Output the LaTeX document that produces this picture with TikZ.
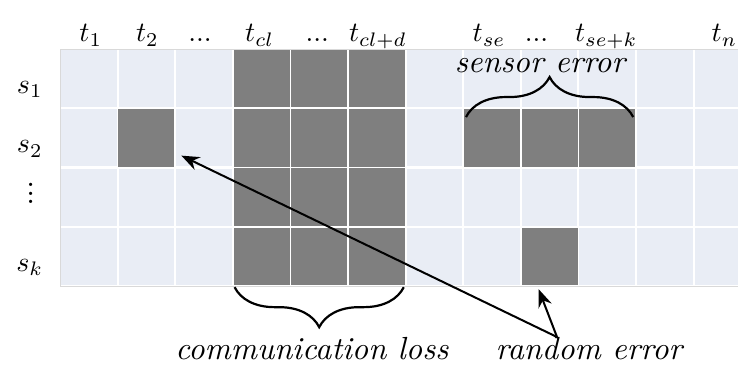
\documentclass[tikz,border=0pt]{standalone}
\usetikzlibrary{positioning,calc,decorations.pathreplacing,arrows.meta}

\definecolor{cellbg}{HTML}{E9EDF5}
\definecolor{lostgray}{HTML}{7F7F7F}
\definecolor{gridline}{HTML}{D9D9D9}
\newcommand{\tdots}{{.}{.}{.}}

\begin{document}
\begin{tikzpicture}[x=1pt,y=-1pt]

    \tikzset{
      cell/.style={
        fill=cellbg,
        inner sep=0pt,
        minimum width=55.6pt,
        minimum height=57.2pt,
      },
      lbl/.style={
        scale=2.8,
        inner sep=0pt,
      },
      phr/.style={
        scale=3.2,
        inner sep=0pt,
        anchor=base,
      },
      brc/.style={
        decorate,
        decoration={brace,amplitude=40pt},
        line width=2.2pt,
      },
      pnt/.style={
        line width=2pt,
        -{Stealth[length=18pt,width=14pt,inset=6pt]},
      },
    }
    \useasboundingbox (0,0) rectangle (738,365);
    \clip (0,0) rectangle (738,365);
    \draw[color=gridline,fill=white] (60,49) rectangle (752,286);
    % the data cells
    \foreach \r in {0,...,3}
      \foreach \c in {0,...,11}
        \node[cell] (c-\r-\c) at (88.8+57.6*\c,78.6+59.25*\r) {};
    \foreach \r/\c in {0/3,0/4,0/5,1/3,1/4,1/5,2/3,2/4,2/5,3/3,3/4,3/5,1/1,1/7,1/8,1/9,3/8}
      \fill[lostgray] (c-\r-\c.south west) rectangle (c-\r-\c.north east);

    % time and sensor labels
    \foreach \c/\txt/\dx in {0/t_1/2,1/t_2/1,2/\tdots/-4,3/t_{cl}/-2,4/\tdots/-2,5/t_{cl+d}/1,7/t_{se}/-3,8/\tdots/-13,9/t_{se+k}/-1,11/t_n/2}
      \node[lbl, anchor=base] (t-\c) at ($(c-0-\c.north)+(\dx,-8)$) {$\txt$};
    \foreach \r/\txt in {0/s_1,1/s_2,3/s_k}
      \node[lbl, anchor=base] (s-\r) at ($(c-\r-0.west)+(-31,15)$) {$\txt$};
    \node[lbl, scale=0.75] (s-2) at ($(c-2-0.west)+(-30,-10)$) {\bfseries$\vdots$};

    % braces
    \draw[brc] ($(c-3-5.south east)+(-1,2)$) -- ($(c-3-3.south west)+(1,2)$);
    \draw[brc] ($(c-1-7.north west)+(2,8)$) -- ($(c-1-9.north east)+(-2,8)$);
    \node[phr] (clloss) at (312,359) {\textit{communication loss}};
    \node[phr] (senserr) at (541,72) {\textit{sensor error}};
    \node[phr] (rnderr) at (590,359) {\textit{random error}};

    % random error pointers
    \coordinate (rndtop) at (557,337);
    \draw[pnt] (rndtop) -- ($(c-1-1.south east)+(7,-11)$);
    \draw[pnt] (rndtop) -- ($(c-3-8.south)+(-11,4)$);

\end{tikzpicture}
\end{document}
